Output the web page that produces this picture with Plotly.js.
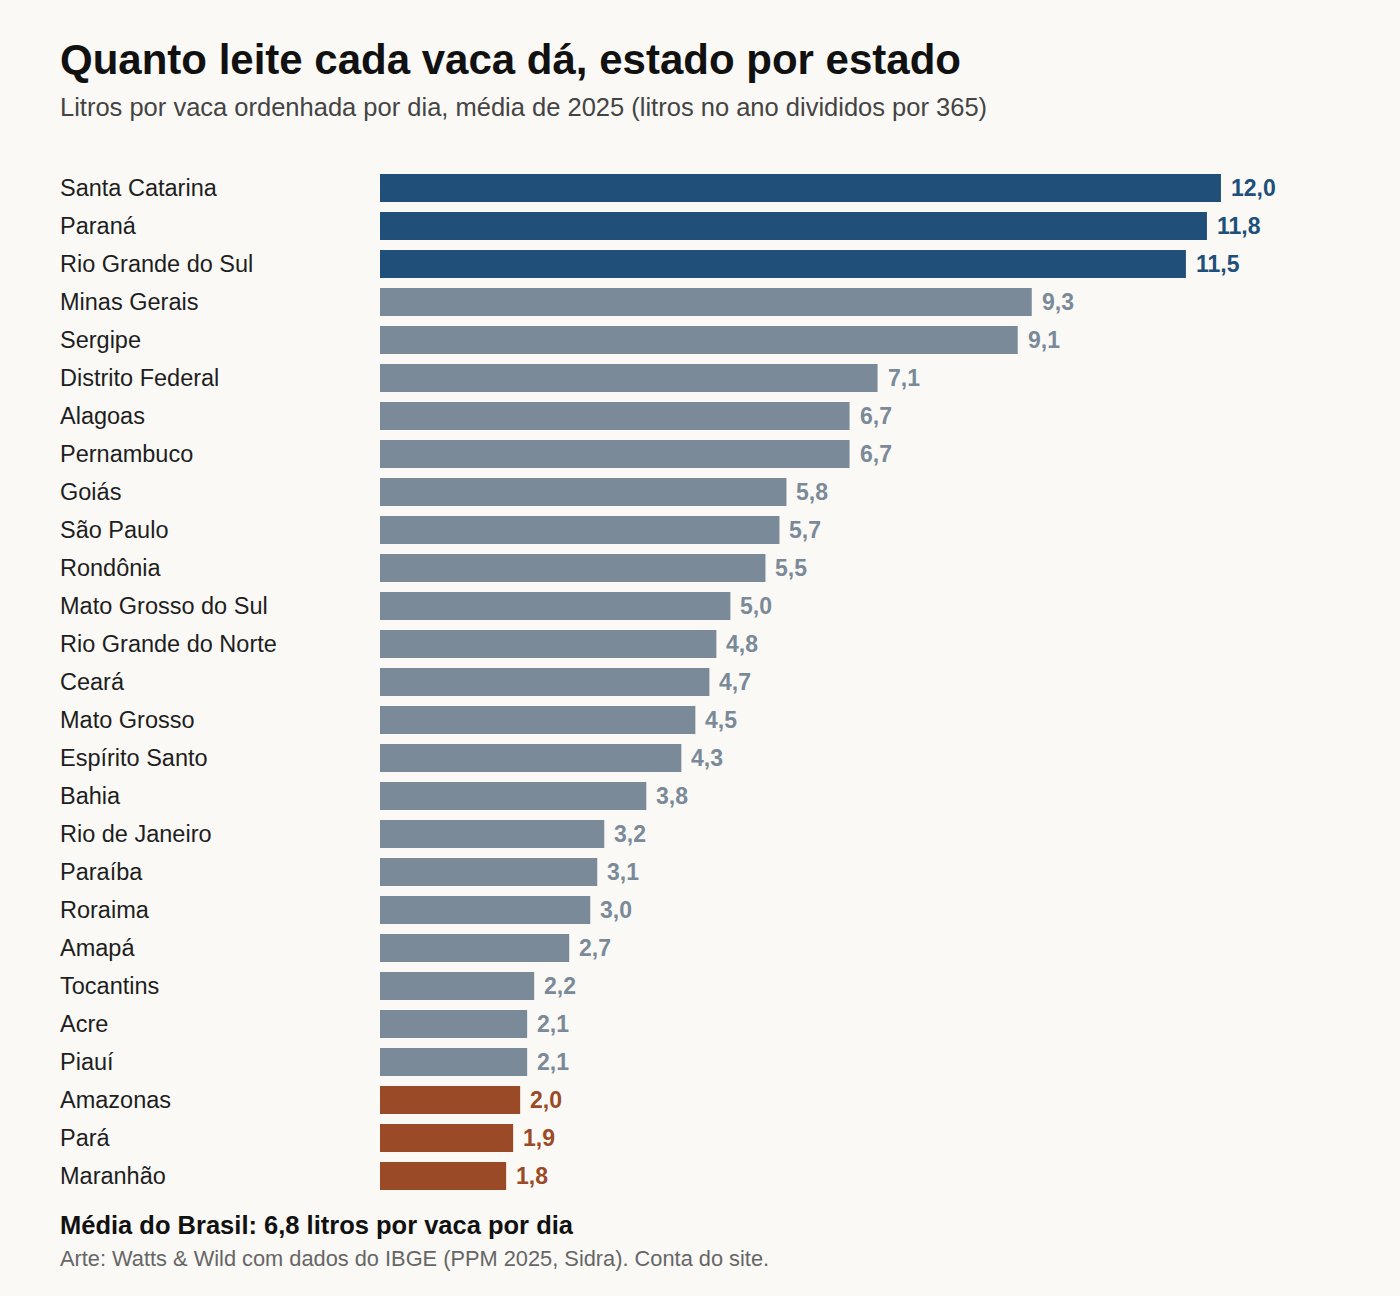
<!DOCTYPE html>
<html>
<head>
<meta charset="utf-8">
<script src="https://cdn.plot.ly/plotly-3.0.1.min.js"></script>
<style>
  html, body { margin: 0; padding: 0; background: #faf9f6; }
  #plot { width: 1400px; height: 1296px; }
</style>
</head>
<body>
<div id="plot"></div>
<script>
// estados, do maior para o menor
var estados = ['Santa Catarina', 'Paraná', 'Rio Grande do Sul', 'Minas Gerais', 'Sergipe',
  'Distrito Federal', 'Alagoas', 'Pernambuco', 'Goiás', 'São Paulo', 'Rondônia',
  'Mato Grosso do Sul', 'Rio Grande do Norte', 'Ceará', 'Mato Grosso', 'Espírito Santo',
  'Bahia', 'Rio de Janeiro', 'Paraíba', 'Roraima', 'Amapá', 'Tocantins', 'Acre', 'Piauí',
  'Amazonas', 'Pará', 'Maranhão'];
// litros por vaca por dia
var litros = [12.0, 11.8, 11.5, 9.3, 9.1, 7.1, 6.7, 6.7, 5.8, 5.7, 5.5, 5.0, 4.8, 4.7,
  4.5, 4.3, 3.8, 3.2, 3.1, 3.0, 2.7, 2.2, 2.1, 2.1, 2.0, 1.9, 1.8];
var mediaBrasil = 6.8;

var titulo = 'Quanto leite cada vaca dá, estado por estado';
var subtitulo = 'Litros por vaca ordenhada por dia, média de 2025 (litros no ano divididos por 365)';
var fonte = 'Arte: Watts & Wild com dados do IBGE (PPM 2025, Sidra). Conta do site.';

var AZUL = '#204f79', CINZA = '#7a8a99', FERRUGEM = '#9a4a27';
var FONT = 'Liberation Sans, Arial, sans-serif';

function fmt(v) { return v.toFixed(1).replace('.', ','); }

var n = estados.length;
var cores = estados.map(function(e, i) {
  if (i < 3) return AZUL;
  if (i >= n - 3) return FERRUGEM;
  return CINZA;
});

var trace = {
  type: 'bar',
  orientation: 'h',
  x: litros,
  y: estados,
  marker: {color: cores},
  hoverinfo: 'skip'
};

// geometry of the plot area (pixels)
var L = 380, R = 60, T = 169, B = 101;
var W = 1400 - L - R, H = 1296 - T - B;
function px(xp) { return (xp - L) / W; }
function py(yp) { return (1296 - B - yp) / H; }

var anns = [];
estados.forEach(function(e, i) {
  anns.push({
    xref: 'paper', yref: 'y', x: px(58), y: e, xanchor: 'left', yanchor: 'middle',
    text: e, showarrow: false, font: {family: FONT, size: 23.5, color: '#1e1e1e'}
  });
  anns.push({
    xref: 'x', yref: 'y', x: litros[i], y: e, xanchor: 'left', yanchor: 'middle',
    xshift: 8, text: fmt(litros[i]), showarrow: false,
    font: {family: FONT, size: 23, color: cores[i], weight: 'bold'}
  });
});

anns.push({
  xref: 'paper', yref: 'paper', x: px(58), y: py(59), xanchor: 'left', yanchor: 'middle',
  text: titulo, showarrow: false, font: {family: FONT, size: 42, color: '#111111', weight: 'bold'}
});
anns.push({
  xref: 'paper', yref: 'paper', x: px(58), y: py(107), xanchor: 'left', yanchor: 'middle',
  text: subtitulo, showarrow: false, font: {family: FONT, size: 25.5, color: '#444444'}
});
anns.push({
  xref: 'paper', yref: 'paper', x: px(58), y: py(1225), xanchor: 'left', yanchor: 'middle',
  text: 'Média do Brasil: ' + fmt(mediaBrasil) + ' litros por vaca por dia', showarrow: false,
  font: {family: FONT, size: 25.5, color: '#111111', weight: 'bold'}
});
anns.push({
  xref: 'paper', yref: 'paper', x: px(58), y: py(1258), xanchor: 'left', yanchor: 'middle',
  text: fonte, showarrow: false, font: {family: FONT, size: 21.8, color: '#666666'}
});

var layout = {
  width: 1400,
  height: 1296,
  margin: {l: L, r: R, t: T, b: B, pad: 0},
  paper_bgcolor: '#faf9f6',
  plot_bgcolor: '#faf9f6',
  showlegend: false,
  bargap: 0.263,
  xaxis: {
    range: [0, W / 70.08],
    showgrid: false, zeroline: false, showticklabels: false, showline: false, ticks: ''
  },
  yaxis: {
    autorange: 'reversed',
    showgrid: false, zeroline: false, showticklabels: false, showline: false, ticks: ''
  },
  annotations: anns
};

Plotly.newPlot('plot', [trace], layout, {displayModeBar: false, staticPlot: true});
</script>
</body>
</html>
